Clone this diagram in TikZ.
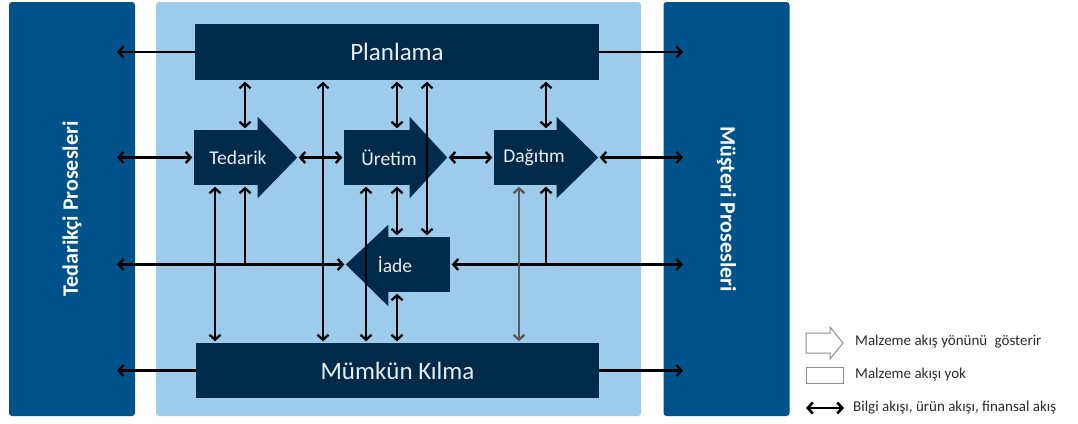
\documentclass[tikz,border=0pt]{standalone}
\usepackage{fontspec}
\setmainfont{Carlito}
\usetikzlibrary{arrows.meta,calc}

\definecolor{sidepanel}{HTML}{00538A}
\definecolor{corepanel}{HTML}{9DCBEB}
\definecolor{procbox}{HTML}{002A49}
\definecolor{boxtext}{HTML}{E8EEF3}
\definecolor{legendgrey}{HTML}{8C8C8C}
\definecolor{legendtext}{HTML}{2B2B2B}
\definecolor{greyline}{HTML}{5A5A5A}

\begin{document}
\begin{tikzpicture}[x=1pt,y=-1pt,
  side/.style={fill=sidepanel, rounded corners=3pt, minimum width=126pt,
    minimum height=414pt, inner sep=0pt, text=white,
    font=\fontsize{22}{26}\selectfont\bfseries},
  core/.style={fill=corepanel, rounded corners=3pt, minimum width=485pt,
    minimum height=414pt, inner sep=0pt},
  wide/.style={fill=procbox, minimum width=404pt, minimum height=56pt,
    inner sep=0pt, text=boxtext, font=\fontsize{25}{30}\selectfont},
  body/.style={fill=procbox, minimum height=55pt, inner sep=0pt},
  proc/.style={text=boxtext, font=\fontsize{19.5}{23}\selectfont, inner sep=0pt},
  barb/.tip={Straight Barb[length=5pt,width=11pt]},
  flow/.style={line width=2.3pt, barb-barb, shorten <=1.5pt, shorten >=1.5pt},
  outflow/.style={line width=2.3pt, -barb, shorten <=0pt, shorten >=1.5pt},
  feed/.style={line width=2.3pt, barb-, shorten <=1.5pt},
  legtext/.style={anchor=west, inner sep=0pt, text=legendtext,
    font=\fontsize{15}{18}\selectfont},
  legsym/.style={draw=legendgrey, fill=white, line width=1pt}
]
\useasboundingbox (0,0) rectangle (1078,423);

% outer process columns and the core area
\node[side] (sup) at (72,209) {\rotatebox{90}{Tedarikçi Prosesleri}};
\node[side] (cus) at (726.5,209) {\rotatebox{-90}{Müşteri Prosesleri}};
\node[core] (core) at (398.5,209) {};

% planning and enabling bars
\node[wide] (plan) at (397,52) {Planlama};
\node[wide, minimum width=403pt, minimum height=55pt] (enab) at (397.5,370.5) {Mümkün Kılma};

% process block arrows: body nodes plus triangular heads
\node[body, minimum width=64pt] (ted) at (226,157.5) {};
\node[body, minimum width=66pt] (ure) at (377,157.5) {};
\node[body, minimum width=63pt] (dag) at (525.5,157.5) {};
\node[body, minimum width=62pt] (iad) at (419,264.5) {};

\fill[procbox] ($(ted.north east)+(-0.5,0)$) -- ++(0,-13) -- ($(ted.east)+(39,0)$) coordinate (tedtip)
  -- ($(ted.south east)+(-0.5,13)$) -- cycle;
\fill[procbox] ($(ure.north east)+(-0.5,0)$) -- ++(0,-13) -- ($(ure.east)+(37,0)$) coordinate (uretip)
  -- ($(ure.south east)+(-0.5,13)$) -- cycle;
\fill[procbox] ($(dag.north east)+(-0.5,0)$) -- ++(0,-13) -- ($(dag.east)+(41,0)$) coordinate (dagtip)
  -- ($(dag.south east)+(-0.5,13)$) -- cycle;
\fill[procbox] ($(iad.north west)+(0.5,0)$) -- ++(0,-12) -- ($(iad.west)+(-42,0)$) coordinate (iadtip)
  -- ($(iad.south west)+(0.5,14)$) -- cycle;

\node[proc] (tedlbl) at ($(ted.center)+(12,0.5)$) {Tedarik};
\node[proc] (urelbl) at ($(ure.center)+(12,0.5)$) {Üretim};
\node[proc] (daglbl) at ($(dag.center)+(8.5,0.5)$) {Dağıtım};
\node[proc] (iadlbl) at ($(iad.center)+(-24,0.5)$) {İade};

% reference columns and arrow ends inside the side panels
\coordinate (tipL) at (115.5,0);
\coordinate (tipR) at (684.5,0);
\coordinate (cA) at (215,0);
\coordinate (cB) at (245,0);
\coordinate (cC) at (323,0);
\coordinate (cD) at (366,0);
\coordinate (cE) at (397,0);
\coordinate (cF) at (427,0);
\coordinate (cG) at (519,0);
\coordinate (cH) at (546,0);

% horizontal flows
\draw[outflow] (plan.west) -- (plan.west -| tipL);
\draw[outflow] (plan.east) -- (plan.east -| tipR);
\draw[flow] (tipL |- ted.west) -- (ted.west);
\draw[flow] (tedtip) -- (ure.west);
\draw[flow] (uretip) -- (dag.west);
\draw[flow] (dagtip) -- (tipR |- dagtip);
\draw[flow] (tipL |- iadtip) -- (iadtip);
\draw[flow] (iad.east) -- (tipR |- iad.east);
\draw[outflow] (enab.west) -- (enab.west -| tipL);
\draw[outflow] (enab.east) -- (enab.east -| tipR);

% vertical flows
\draw[flow] (plan.south -| cB) -- (ted.north -| cB);
\draw[flow] (plan.south -| cE) -- (ure.north -| cE);
\draw[flow] (plan.south -| cH) -- (dag.north -| cH);
\draw[flow] (plan.south -| cC) -- (enab.north -| cC);
\draw[flow] (plan.south -| cF) -- (iad.north -| cF);
\draw[flow] (ted.south -| cA) -- (enab.north -| cA);
\draw[feed] (ted.south -| cB) -- (iadtip -| cB);
\draw[flow] (ure.south -| cD) -- (enab.north -| cD);
\draw[flow] (ure.south -| cE) -- (iad.north -| cE);
\draw[flow] (iad.south -| cE) -- (enab.north -| cE);
\draw[flow, draw=greyline] (dag.south -| cG) -- (enab.north -| cG);
\draw[feed] (dag.south -| cH) -- (iad.east -| cH);

% legend
\node[legtext] (lg1) at (855,342) {Malzeme akış yönünü\hspace{4pt} gösterir};
\node[legtext] (lg2) at (855,375) {Malzeme akışı yok};
\node[legtext] (lg3) at (853,408) {Bilgi akışı, ürün akışı, finansal akış};
\draw[legsym] (806,333) -- (830,333) -- (830,327) -- (843,343) -- (830,359)
  -- (830,353) -- (806,353) -- cycle;
\draw[legsym] (806,367) rectangle (843,383);
\coordinate (k1) at (806,408);
\coordinate (k2) at (844,408);
\draw[flow, line width=2.6pt, shorten <=0pt, shorten >=0pt] (k1) -- (k2);
\end{tikzpicture}
\end{document}
